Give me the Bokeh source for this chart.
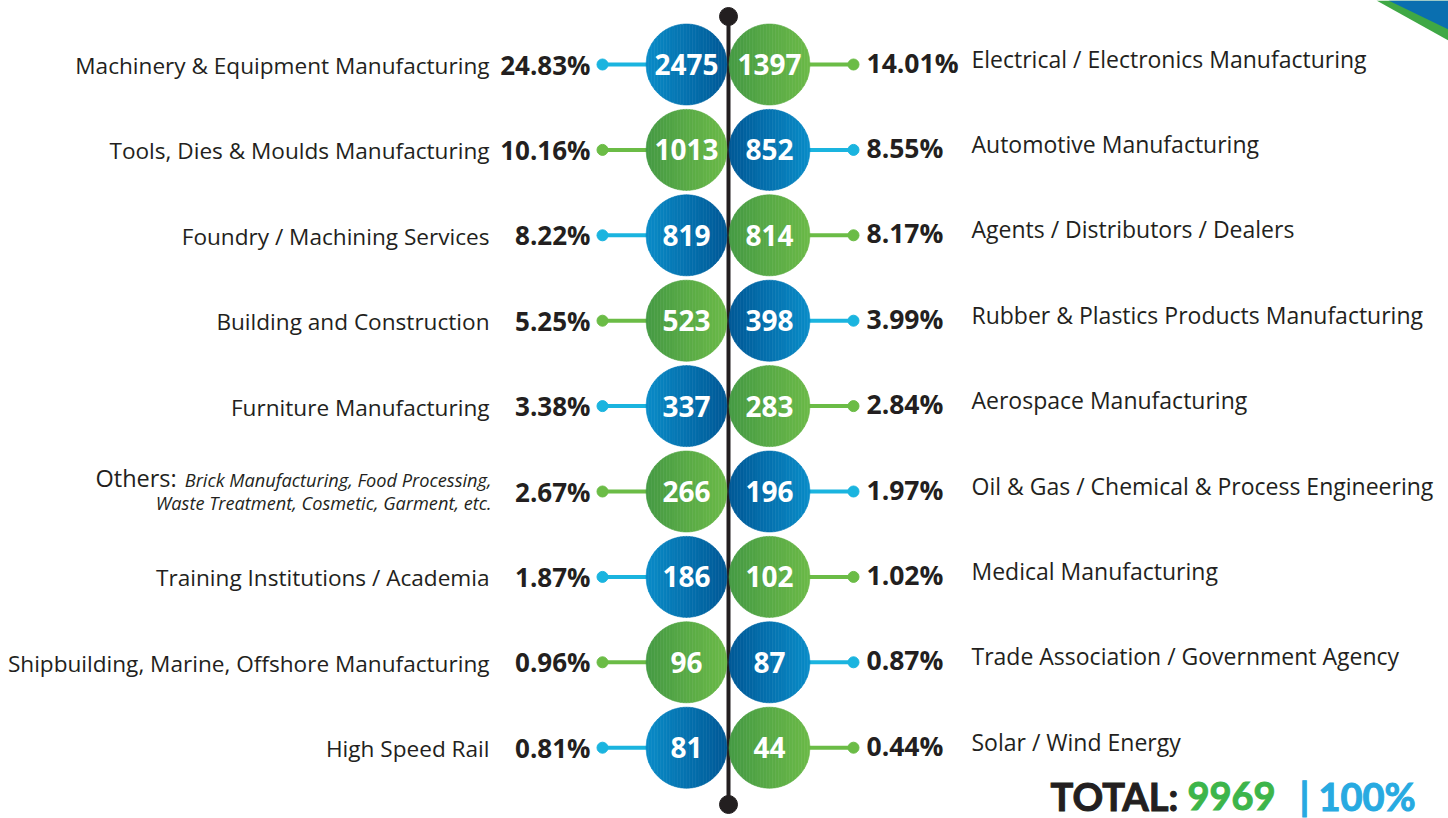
import numpy as np
from bokeh.plotting import figure
from bokeh.models import Range1d, ColumnDataSource
from bokeh.core.properties import value
from bokeh.embed import file_html
from bokeh.resources import INLINE

# ---------------- data ----------------
left_labels = ["Machinery & Equipment Manufacturing", "Tools, Dies & Moulds Manufacturing",
               "Foundry / Machining Services", "Building and Construction",
               "Furniture Manufacturing", "Others:", "Training Institutions / Academia",
               "Shipbuilding, Marine, Offshore Manufacturing", "High Speed Rail"]
left_values = [2475, 1013, 819, 523, 337, 266, 186, 96, 81]
right_labels = ["Electrical / Electronics Manufacturing", "Automotive Manufacturing",
                "Agents / Distributors / Dealers", "Rubber & Plastics Products Manufacturing",
                "Aerospace Manufacturing", "Oil & Gas / Chemical & Process Engineering",
                "Medical Manufacturing", "Trade Association / Government Agency",
                "Solar / Wind Energy"]
right_values = [1397, 852, 814, 398, 283, 196, 102, 87, 44]
others_detail = ["Brick Manufacturing, Food Processing,", "Waste Treatment, Cosmetic, Garment, etc."]
left_kind = ["blue", "green", "blue", "green", "blue", "green", "blue", "green", "blue"]
right_kind = ["green", "blue", "green", "blue", "green", "blue", "green", "blue", "green"]

total = sum(left_values) + sum(right_values)

# ---------------- layout / style ----------------
FONT = value("Open Sans")
n = len(left_values)
row_y = [64 + i * 85.4 for i in range(n)]
CX_L, CX_R, R = 686, 769, 40.5
AXIS_X = 728
LINE_C = {"blue": "#1ab4df", "green": "#6bbc46"}
GRAD = {"blueL": ("#0a8cc8", "#005896"), "blueR": ("#005896", "#0a8cc8"),
        "green": ("#459a44", "#6cba48")}

p = figure(width=1448, height=818, output_backend="svg", toolbar_location=None,
           x_range=Range1d(0, 1448), y_range=Range1d(818, 0), min_border=0,
           outline_line_color=None, background_fill_color="white", border_fill_color="white")
p.axis.visible = False
p.grid.visible = False

# corner ribbon
p.patch([1376, 1448, 1448], [0, 0, 40], fill_color="#3fa845", line_color=None)
p.patch([1388, 1448, 1448], [0, 0, 29], fill_color="#0a6fb0", line_color=None)

# center axis
p.line([AXIS_X, AXIS_X], [16, 804], line_color="#231f20", line_width=4)
p.scatter([AXIS_X, AXIS_X], [16, 804], size=18, color="#231f20")


def hexrgb(h):
    return np.array([int(h[i:i + 2], 16) for i in (1, 3, 5)], dtype=float)


def grad_circle(cx, cy, r, c0, c1, N=28):
    xs, ys, cols = [], [], []
    a, b = hexrgb(c0), hexrgb(c1)
    for k in range(N):
        x0 = cx - r + 2 * r * k / N
        x1 = cx - r + 2 * r * (k + 1) / N
        xx = np.linspace(x0, x1, 5)
        h = np.sqrt(np.clip(r * r - (xx - cx) ** 2, 0, None))
        xs.append(list(xx) + list(xx[::-1]))
        ys.append(list(cy - h) + list((cy + h)[::-1]))
        t = (k + 0.5) / N
        c = a + (b - a) * t
        cols.append("#%02x%02x%02x" % tuple(int(round(v)) for v in c))
    return xs, ys, cols


all_xs, all_ys, all_c = [], [], []
for i in range(n):
    kL = "blueL" if left_kind[i] == "blue" else "green"
    kR = "blueR" if right_kind[i] == "blue" else "green"
    for cx, kk in ((CX_L, kL), (CX_R, kR)):
        xs, ys, cs = grad_circle(cx, row_y[i], R, *GRAD[kk])
        all_xs += xs
        all_ys += ys
        all_c += cs

# connector lines
for i in range(n):
    lc = LINE_C[left_kind[i]]
    p.line([602, CX_L - R + 2], [row_y[i], row_y[i]], line_color=lc, line_width=4)
    p.scatter([602], [row_y[i]], size=11, color=lc)
    rc = LINE_C[right_kind[i]]
    p.line([CX_R + R - 2, 853], [row_y[i], row_y[i]], line_color=rc, line_width=4)
    p.scatter([853], [row_y[i]], size=11, color=rc)

p.patches(all_xs, all_ys, fill_color=all_c, line_color=all_c, line_width=0.6)

# numbers in circles
src_num = ColumnDataSource(dict(
    x=[CX_L] * n + [CX_R] * n, y=row_y + row_y,
    t=[str(v) for v in left_values] + [str(v) for v in right_values]))
p.text("x", "y", text="t", source=src_num, text_color="white", text_font=FONT,
       text_font_style="bold", text_font_size="28px", text_align="center",
       text_baseline="middle")

# percentages
lp = ["%.2f%%" % (100 * v / total) for v in left_values]
rp = ["%.2f%%" % (100 * v / total) for v in right_values]
p.text([590] * n, row_y, text=lp, text_color="#231f20", text_font=FONT,
       text_font_style="bold", text_font_size="26px", text_align="right",
       text_baseline="middle")
p.text([866] * n, [y - 2 for y in row_y], text=rp, text_color="#231f20", text_font=FONT,
       text_font_style="bold", text_font_size="26.5px", text_align="left",
       text_baseline="middle")

# labels
ly = [y + 1 for y in row_y]
idx_o = left_labels.index("Others:")
norm_idx = [i for i in range(n) if i != idx_o]
p.text([489] * len(norm_idx), [ly[i] for i in norm_idx],
       text=[left_labels[i] for i in norm_idx], text_color="#231f20", text_font=FONT,
       text_font_size="22.6px", text_align="right", text_baseline="middle")
p.text([95], [row_y[idx_o] - 14], text=[left_labels[idx_o]], text_color="#231f20",
       text_font=FONT, text_font_size="23.5px", text_align="left", text_baseline="middle")
p.text([491, 491], [row_y[idx_o] - 12, row_y[idx_o] + 11], text=others_detail,
       text_color="#231f20", text_font=FONT, text_font_style="italic",
       text_font_size="18.2px", text_align="right", text_baseline="middle")
p.text([971] * n, [y - 6 for y in row_y], text=right_labels, text_color="#231f20",
       text_font=FONT, text_font_size="23px", text_align="left", text_baseline="middle")

# total
TF = value("Lato")
common = dict(text_font=TF, text_font_style="bold", text_font_size="38px",
              text_align="left", text_baseline="middle")
p.text([1050], [795], text=["TOTAL:"], text_color="#231f20",
       text_outline_color="#231f20", **common)
p.text([1187], [795], text=[str(total)], text_color="#3db54a",
       text_outline_color="#3db54a", **common)
p.text([1299], [795], text=["|"], text_color="#27aae1",
       text_outline_color="#27aae1", **common)
p.text([1318], [795], text=["100%"], text_color="#27aae1",
       text_outline_color="#27aae1", **common)

open("out.html", "w").write(file_html(p, INLINE))
